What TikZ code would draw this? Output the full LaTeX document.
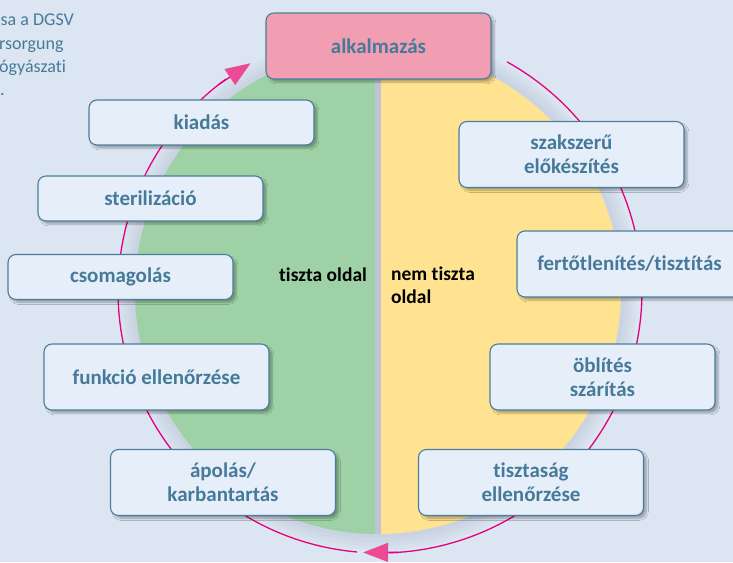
\documentclass[tikz,border=0pt]{standalone}
\usepackage{fontspec}
\setmainfont{Carlito}[Ligatures=NoCommon]
\usetikzlibrary{arrows.meta,shadows.blur}
\definecolor{bg}{RGB}{220,230,242}
\definecolor{boxfill}{RGB}{230,239,249}
\definecolor{boxdraw}{RGB}{74,126,155}
\definecolor{boxtext}{RGB}{70,122,152}
\definecolor{pinkbox}{RGB}{241,158,179}
\definecolor{greenhalf}{RGB}{158,210,166}
\definecolor{yellowhalf}{RGB}{255,227,145}
\definecolor{stripe}{RGB}{190,197,210}
\definecolor{loopcolor}{RGB}{230,0,126}
\definecolor{loophead}{RGB}{237,74,150}
\definecolor{glow}{RGB}{140,150,172}
\begin{document}
\begin{tikzpicture}[x=1pt,y=-1pt,
  stepbox/.style={draw=boxdraw, line width=1.1pt, fill=boxfill, rounded corners=8pt,
    minimum width=225pt, minimum height=45pt, text=boxtext,
    font=\fontsize{21}{24}\selectfont\bfseries, align=center, inner sep=0pt,
    blur shadow={shadow xshift=3pt, shadow yshift=-3pt, shadow blur steps=6, shadow opacity=30}},
  tallbox/.style={stepbox, minimum height=66pt},
  loopline/.style={draw=loopcolor, line width=1.3pt},
  loophead/.style={loopline, -{Triangle[length=25pt,width=19pt,color=loophead]}},
  sidelabel/.style={font=\fontsize{19.5}{22.5}\selectfont\bfseries, align=left, inner sep=0pt},
  note/.style={text=boxtext, font=\fontsize{18}{22}\selectfont, inner sep=0pt, anchor=base west}]
\fill[bg] (0,0) rectangle (733,562);
\useasboundingbox (0,0) rectangle (733,562);
% glow around the disk
\foreach \r in {259pt,255pt,251pt,247pt} \fill[glow, opacity=0.06] (378,291) circle[radius=\r];
% disk halves
\begin{scope}
  \clip (378,291) circle[radius=243pt];
  \fill[stripe] (300,40) rectangle (460,540);
  \fill[greenhalf] (130,40) rectangle (375,540);
  \fill[yellowhalf] (381,40) rectangle (630,540);
\end{scope}
% cycle arcs
\draw[loopline] plot[domain=-61:88, samples=90] ({380+262*cos(\x)},{291+262*sin(\x)});
\coordinate (b1) at ({380+262*cos(86)},{291+262*sin(86)});
\coordinate (b2) at ({380+262*cos(93.7)},{291+262*sin(93.7)});
\draw[loophead] (b1) -- (b2);
\draw[loopline] plot[domain=95:234, samples=90] ({380+262*cos(\x)},{291+262*sin(\x)});
\coordinate (t1) at ({380+262*cos(232)},{291+262*sin(232)});
\coordinate (t2) at ({380+262*cos(240.4)},{291+262*sin(240.4)});
\draw[loophead] (t1) -- (t2);
% side labels
\node[sidelabel, anchor=base west] (clean) at (279,281) {tiszta oldal};
\node[sidelabel, anchor=north west] (dirty) at (391,267) {nem tiszta\\oldal};
% boxes
\node[tallbox, fill=pinkbox] (app) at (378.5,46) {alkalmazás};
\node[stepbox] (issue) at (201.5,122.5) {kiadás};
\node[stepbox] (steril) at (150.5,198.5) {sterilizáció};
\node[stepbox] (pack) at (120.5,277) {csomagolás};
\node[tallbox] (func) at (156.5,377) {funkció ellenőrzése};
\node[tallbox] (care) at (223,482.5) {ápolás/\\karbantartás};
\node[tallbox] (prep) at (571.5,154.5) {szakszerű\\előkészítés};
\node[tallbox] (disinf) at (629.5,264) {fertőtlenítés/tisztítás};
\node[tallbox] (rinse) at (602.5,377) {öblítés\\szárítás};
\node[tallbox] (check) at (531,482.5) {tisztaság\\ellenőrzése};
% cropped note at top left
\node[note] (n1) at (0.5,25) {sa a DGSV};
\node[note] (n2) at (-1,49) {rsorgung};
\node[note] (n3) at (-1,72) {ógyászati};
\node[note] (n4) at (0,95) {.};
\end{tikzpicture}
\end{document}
